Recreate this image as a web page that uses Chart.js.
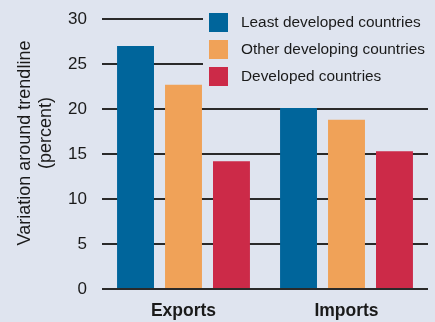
<!DOCTYPE html>
<html><head><meta charset="utf-8">
<script src="https://cdn.jsdelivr.net/npm/chart.js@4/dist/chart.umd.min.js"></script>
<style>
html,body{margin:0;padding:0;background:#dfe4ef;}
#wrap{width:435px;height:322px;position:relative;}
</style></head>
<body><div id="wrap"><canvas id="c" width="435" height="322"></canvas></div>
<script>
const categories = ['Exports', 'Imports'];
const seriesNames = ['Least developed countries', 'Other developing countries', 'Developed countries'];
const leastDeveloped = [27.0, 20.1];
const otherDeveloping = [22.7, 18.8];
const developed = [14.2, 15.3];
const yTicks = [0, 5, 10, 15, 20, 25, 30];
const yTitle = ['Variation around trendline', '(percent)'];
const colors = ['#00659b', '#f0a258', '#cc2a48'];
const BG = '#dfe4ef';
const FONT = '"Liberation Sans", Arial, sans-serif';

const overlay = {
  id: 'overlay',
  beforeDatasetsDraw(chart) {
    const ctx = chart.ctx;
    ctx.save();
    ctx.fillStyle = BG;
    ctx.fillRect(203, 0, 435 - 203, 92);
    ctx.restore();
  },
  afterDraw(chart) {
    const ctx = chart.ctx;
    ctx.save();
    ctx.font = '15.4px ' + FONT;
    ctx.textBaseline = 'middle';
    chart.data.datasets.forEach((ds, i) => {
      const top = 13 + i * 27;
      ctx.fillStyle = ds.backgroundColor;
      ctx.fillRect(209, top, 19, 19);
      ctx.fillStyle = '#1a1a1a';
      ctx.fillText(ds.label, 241, top + 10);
    });
    ctx.font = '18px ' + FONT;
    ctx.fillStyle = '#1a1a1a';
    ctx.textAlign = 'center';
    ctx.textBaseline = 'middle';
    ctx.save();
    ctx.translate(25, 143);
    ctx.rotate(-Math.PI / 2);
    ctx.fillText(yTitle[0], 0, 0);
    ctx.fillText(yTitle[1], 10, 21);
    ctx.restore();
    ctx.restore();
  }
};

new Chart(document.getElementById('c'), {
  type: 'bar',
  data: {
    labels: categories,
    datasets: [
      { label: seriesNames[0], data: leastDeveloped, backgroundColor: colors[0] },
      { label: seriesNames[1], data: otherDeveloping, backgroundColor: colors[1] },
      { label: seriesNames[2], data: developed, backgroundColor: colors[2] }
    ]
  },
  options: {
    responsive: false,
    animation: false,
    devicePixelRatio: 1,
    layout: { padding: { top: 19, right: 7, left: 0, bottom: 0 } },
    datasets: { bar: { categoryPercentage: 0.883, barPercentage: 0.77 } },
    plugins: { legend: { display: false }, tooltip: { enabled: false } },
    scales: {
      x: {
        grid: { display: false, drawTicks: false },
        border: { display: false },
        ticks: { color: '#1a1a1a', font: { family: FONT, size: 17.5, weight: 'bold' }, padding: 12 },
        afterFit(s) { s.height = 33; s.paddingLeft = 0; s.paddingRight = 0; }
      },
      y: {
        min: 0, max: 30,
        afterBuildTicks(s) { s.ticks = yTicks.map(v => ({ value: v })); },
        grid: { color: '#2a2a2a', lineWidth: 2, drawTicks: false },
        border: { display: false },
        ticks: { color: '#1a1a1a', font: { family: FONT, size: 17 }, padding: 15 },
        afterFit(s) { s.width = 102; s.paddingTop = 0; s.paddingBottom = 0; }
      }
    }
  },
  plugins: [overlay]
});
</script></body></html>
